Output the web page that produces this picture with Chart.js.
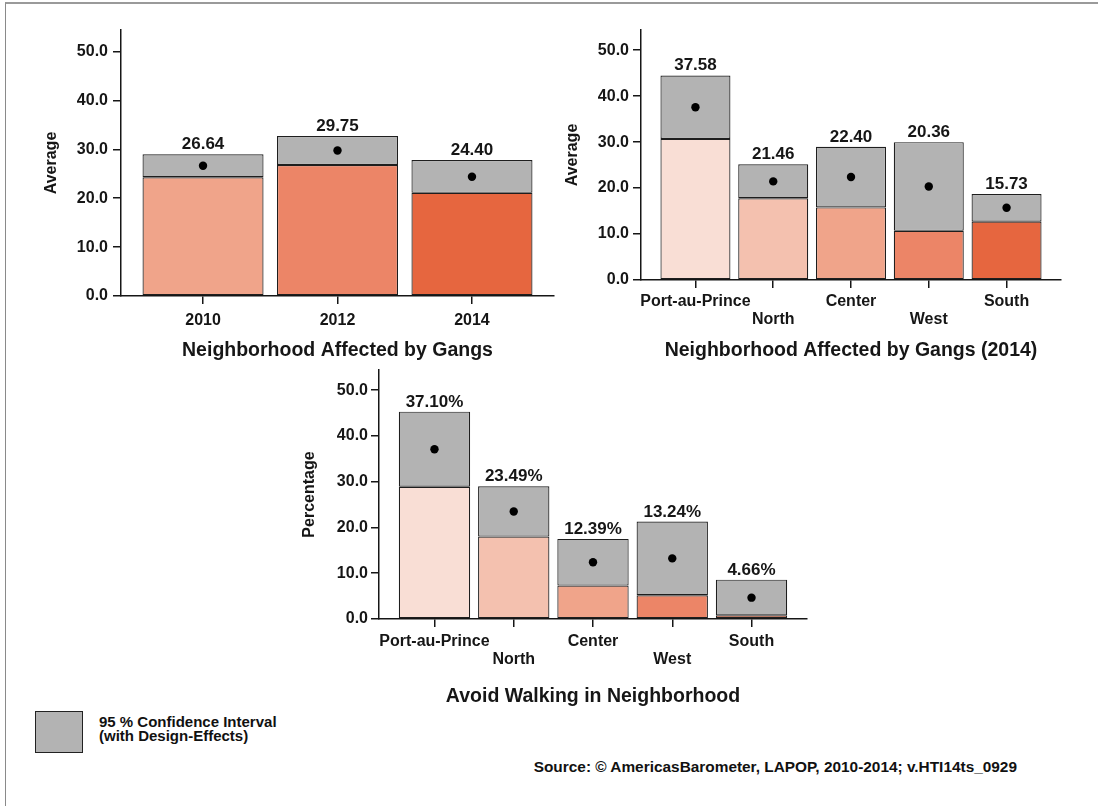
<!DOCTYPE html>
<html>
<head>
<meta charset="utf-8">
<script src="https://cdn.jsdelivr.net/npm/chart.js@4.4.0/dist/chart.umd.min.js"></script>
<style>
  body { margin: 0; background: #fff; width: 1098px; height: 806px; position: relative; overflow: hidden;
         font-family: "Liberation Sans", Arial, sans-serif; color: #111; }
  .frame { position: absolute; left: 5px; top: 2px; right: -2px; bottom: -2px;
           border-top: 2px solid #9a9a9a; border-left: 1px solid #8a8a8a; }
  canvas { position: absolute; }
  #legendBox { position: absolute; left: 35px; top: 711px; width: 46px; height: 40px;
               background: #b3b3b3; border: 1.5px solid #222; }
  #legendText { position: absolute; left: 99px; top: 715px; font-weight: bold; font-size: 15px; line-height: 14px; }
  #source { position: absolute; right: 81px; top: 758px; font-weight: bold; font-size: 15.4px; line-height: 18px; }
</style>
</head>
<body>
<div class="frame"></div>
<canvas id="gangYears" style="left:0;top:0" width="570" height="372"></canvas>
<canvas id="gangRegions" style="left:550px;top:0" width="548" height="372"></canvas>
<canvas id="avoidWalk" style="left:290px;top:350px" width="540" height="360"></canvas>
<div id="legendBox"></div>
<div id="legendText">95 % Confidence Interval<br>(with Design-Effects)</div>
<div id="source">Source: © AmericasBarometer, LAPOP, 2010-2014; v.HTI14ts_0929</div>
<script>
/* DATA */
const years = ['2010', '2012', '2014'];
const gangMean = [26.64, 29.75, 24.40];
const gangLow = [24.3, 26.8, 21.1];
const gangHigh = [29.0, 32.7, 27.8];

const regions = ['Port-au-Prince', 'North', 'Center', 'West', 'South'];
const regionGangMean = [37.58, 21.46, 22.40, 20.36, 15.73];
const regionGangLow = [30.7, 17.8, 15.8, 10.7, 12.7];
const regionGangHigh = [44.5, 25.2, 29.0, 30.0, 18.7];

const avoidMean = [37.10, 23.49, 12.39, 13.24, 4.66];
const avoidLow = [28.9, 18.0, 7.3, 5.2, 0.8];
const avoidHigh = [45.3, 29.0, 17.5, 21.3, 8.6];

/* COLORS */
const yearColors = ['#F0A48A', '#EC8567', '#E6663F'];
const regionColors = ['#F9DED5', '#F4C1AF', '#F0A48A', '#EC8567', '#E6663F'];
const ciGray = '#b3b3b3';
const ink = '#161616';
const FONT = '"Liberation Sans", Arial, sans-serif';

/* value labels above each bar */
function labelPlugin(high, texts) {
    return {
        id: 'valueLabels',
        afterDatasetsDraw(chart) {
            const ctx = chart.ctx;
            const meta = chart.getDatasetMeta(1);
            ctx.save();
            ctx.font = 'bold 17px ' + FONT;
            ctx.fillStyle = ink;
            ctx.textAlign = 'center';
            ctx.textBaseline = 'alphabetic';
            meta.data.forEach((bar, i) => {
                const y = chart.scales.y.getPixelForValue(high[i]);
                ctx.fillText(texts[i], bar.x, y - 5);
            });
            ctx.restore();
        }
    };
}

function makeChart(id, labels, mean, low, high, colors, o) {
    const suffix = o.suffix || '';
    return new Chart(document.getElementById(id), {
        type: 'bar',
        data: {
            datasets: [
                {
                    data: labels.map((l, i) => ({ x: i, y: [0, low[i]] })),
                    backgroundColor: colors,
                    borderColor: '#1e1e1e', borderWidth: 1.2, borderSkipped: false,
                    barPercentage: 0.9, categoryPercentage: 1, order: 1
                },
                {
                    data: labels.map((l, i) => ({ x: i, y: [low[i], high[i]] })),
                    backgroundColor: ciGray,
                    borderColor: '#1e1e1e', borderWidth: 1.2, borderSkipped: false,
                    barPercentage: 0.9, categoryPercentage: 1, order: 1
                },
                {
                    type: 'scatter',
                    data: mean.map((m, i) => ({ x: i, y: m })),
                    pointRadius: 4.2, backgroundColor: '#000', borderWidth: 0, order: 0
                }
            ]
        },
        options: {
            responsive: false,
            animation: false,
            layout: { padding: { top: o.padTop, right: o.padRight, left: 0, bottom: 0 } },
            plugins: { legend: { display: false }, tooltip: { enabled: false } },
            scales: {
                x: {
                    type: 'linear', min: -o.edge, max: labels.length - 1 + o.edge,
                    offset: false, stacked: true,
                    afterFit: s => { s.height = o.xHeight; },
                    border: { color: ink, width: 1.5 },
                    grid: { drawOnChartArea: false, drawTicks: true, tickLength: 8, color: ink, lineWidth: 1.5, offset: false },
                    ticks: {
                        stepSize: 1, includeBounds: false, autoSkip: false, maxRotation: 0,
                        padding: o.xPad, color: ink,
                        font: { family: FONT, size: 16, weight: 'bold', lineHeight: 1.1 },
                        callback: v => {
                            if (!Number.isInteger(v) || labels[v] === undefined) return '';
                            return (o.stagger && v % 2 === 1) ? ['', labels[v]] : labels[v];
                        }
                    },
                    title: {
                        display: true, text: o.title, color: ink,
                        font: { family: FONT, size: 19.5, weight: 'bold', lineHeight: 1.2 },
                        padding: { top: 0, bottom: o.titlePad }
                    }
                },
                y: {
                    min: 0, max: 54.4,
                    afterFit: s => { s.width = o.yWidth; },
                    border: { color: ink, width: 1.5 },
                    grid: { drawOnChartArea: false, drawTicks: true, tickLength: 8, color: ink, lineWidth: 1.5 },
                    ticks: {
                        stepSize: 10, includeBounds: false, padding: o.yPad, color: ink,
                        font: { family: FONT, size: 16, weight: 'bold' },
                        callback: v => v.toFixed(1)
                    },
                    title: {
                        display: true, text: o.yTitle, color: ink,
                        font: { family: FONT, size: 16, weight: 'bold', lineHeight: 1.2 },
                        padding: { top: o.yTitlePad, bottom: 0 }
                    }
                }
            }
        },
        plugins: [labelPlugin(high, mean.map(m => m.toFixed(2) + suffix))]
    });
}

/* TOP LEFT */
makeChart('gangYears', years, gangMean, gangLow, gangHigh, yearColors, {
    title: 'Neighborhood Affected by Gangs', yTitle: 'Average',
    edge: 0.61, padTop: 30, padRight: 16, xHeight: 76, yWidth: 121,
    xPad: 8, yPad: 5, titlePad: 10, yTitlePad: 42, stagger: false
});

/* TOP RIGHT */
makeChart('gangRegions', regions, regionGangMean, regionGangLow, regionGangHigh, regionColors, {
    title: 'Neighborhood Affected by Gangs (2014)', yTitle: 'Average',
    edge: 0.7, padTop: 30, padRight: 37, xHeight: 92, yWidth: 91,
    xPad: 5, yPad: 4, titlePad: 10, yTitlePad: 13, stagger: true
});

/* BOTTOM */
makeChart('avoidWalk', regions, avoidMean, avoidLow, avoidHigh, regionColors, {
    title: 'Avoid Walking in Neighborhood', yTitle: 'Percentage', suffix: '%',
    edge: 0.7, padTop: 20, padRight: 23, xHeight: 91, yWidth: 89,
    xPad: 6, yPad: 3, titlePad: 2, yTitlePad: 10, stagger: true
});
</script>
</body>
</html>
